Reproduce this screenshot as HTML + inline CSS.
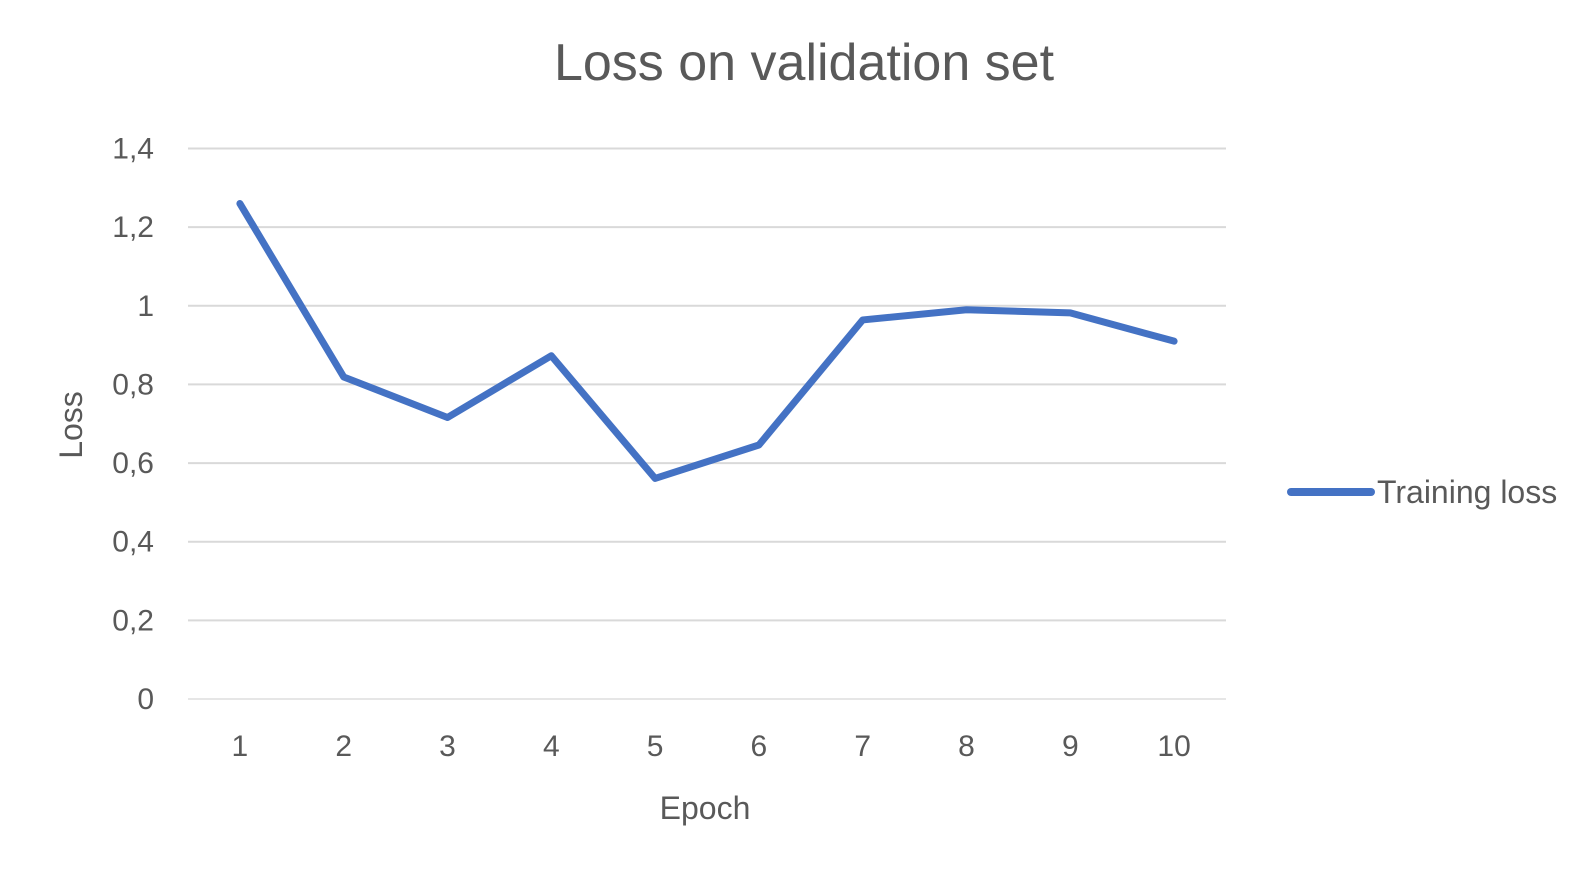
<!DOCTYPE html>
<html><head><meta charset="utf-8"><style>
html,body{margin:0;padding:0;background:#fff;}
svg{display:block;font-family:"Liberation Sans",sans-serif;}
</style></head><body>
<svg id="chart" width="1596" height="873" viewBox="0 0 1596 873">
<text x="804" y="80" text-anchor="middle" font-size="52" fill="#595959">Loss on validation set</text>
<g id="grid"></g><g id="yticks"></g><g id="xticks"></g>
<text transform="translate(82,425) rotate(-90)" text-anchor="middle" font-size="32" fill="#595959">Loss</text>
<text x="705" y="819" text-anchor="middle" font-size="32" fill="#595959">Epoch</text>
<g>
<line x1="1291" y1="492" x2="1371" y2="492" stroke="#4472C4" stroke-width="8" stroke-linecap="round"/>
<text x="1377" y="503" font-size="32" fill="#595959">Training loss</text>
</g>
</svg>
<script>
const categories = ['1','2','3','4','5','6','7','8','9','10'];
const lossValues = [1.26, 0.819, 0.716, 0.873, 0.561, 0.646, 0.964, 0.99, 0.982, 0.91];
const yTicks = [0, 0.2, 0.4, 0.6, 0.8, 1, 1.2, 1.4];
const yTickLabels = ['0','0,2','0,4','0,6','0,8','1','1,2','1,4'];
const NS='http://www.w3.org/2000/svg';
const L=188,R=1226,Y0=699,Y1=148.5,YMAX=1.4;
const y=v=>Y0-(v/YMAX)*(Y0-Y1);
const band=(R-L)/categories.length;
const x=i=>L+band*(i+0.5);
const svg=document.getElementById('chart');
const mk=(t,a)=>{const e=document.createElementNS(NS,t);for(const k in a)e.setAttribute(k,a[k]);return e;};
yTicks.forEach((v,i)=>{
  const g=mk('line',{x1:L,x2:R,y1:y(v),y2:y(v),stroke:i===0?'#e6e6e6':'#d9d9d9','stroke-width':2});
  
  
  document.getElementById('grid').appendChild(g);
  const t=mk('text',{x:154,y:y(v)+10,'text-anchor':'end','font-size':30,fill:'#595959'});
  t.textContent=yTickLabels[i];
  
  
  document.getElementById('yticks').appendChild(t);
});
categories.forEach((c,i)=>{
  const t=mk('text',{x:x(i),y:756,'text-anchor':'middle','font-size':30,fill:'#595959'});
  t.textContent=c;
  
  
  document.getElementById('xticks').appendChild(t);
});
const pts=lossValues.map((v,i)=>x(i)+','+y(v)).join(' ');
const pl=mk('polyline',{points:pts,fill:'none',stroke:'#4472C4','stroke-width':7,'stroke-linecap':'round','stroke-linejoin':'round'});


svg.appendChild(pl);
</script>
</body></html>
